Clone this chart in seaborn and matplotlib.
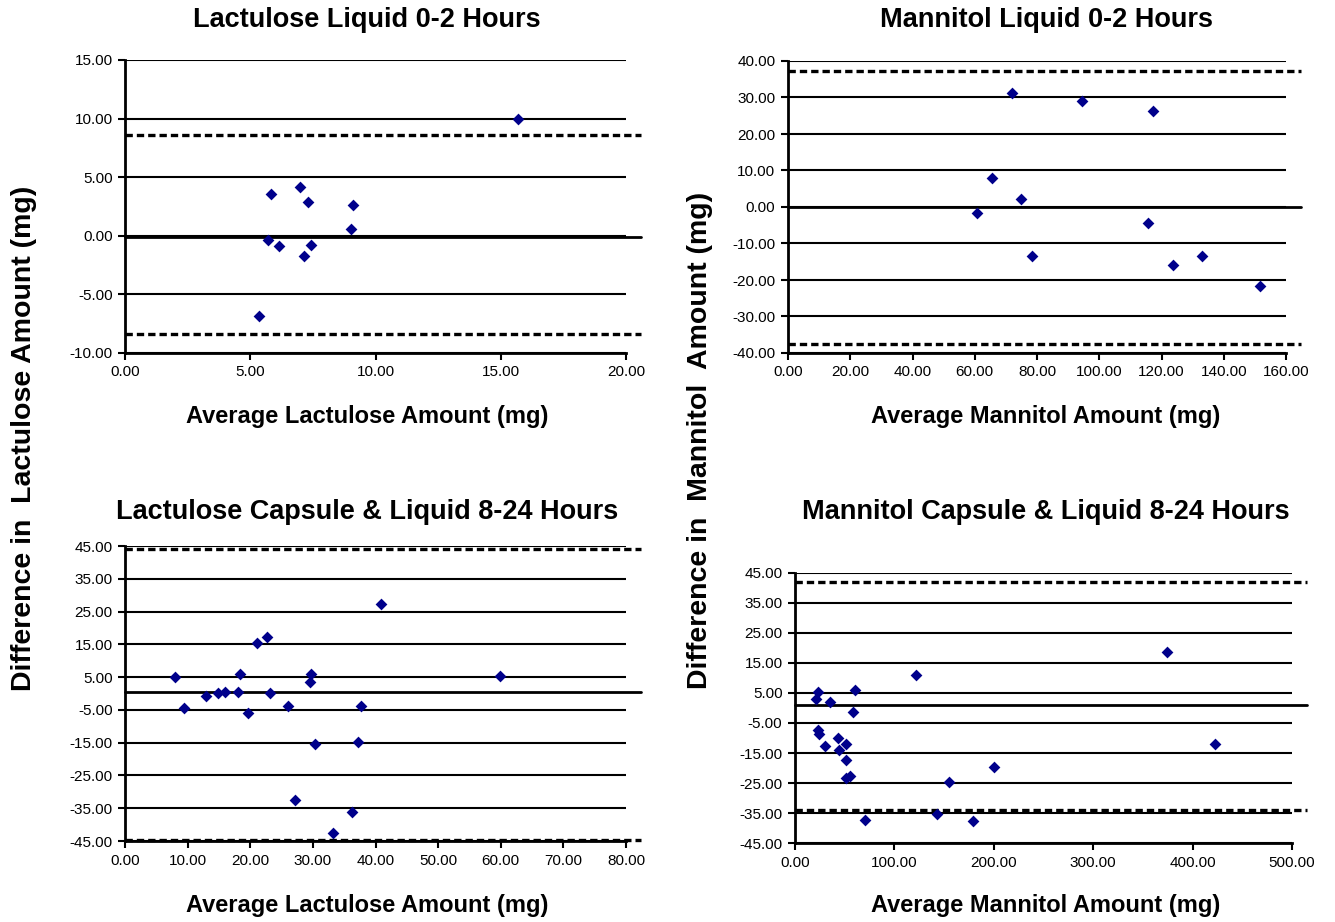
import pandas as pd
import seaborn as sns
import matplotlib.pyplot as plt

# Lactulose liquid 0-2 hours
lac_liq_avg = [15.68, 5.81, 7.00, 7.31, 9.09, 9.04, 5.69, 6.16, 7.43, 7.16, 5.33]
lac_liq_diff = [10.00, 3.55, 4.20, 2.90, 2.59, 0.54, -0.34, -0.91, -0.77, -1.76, -6.88]
lac_liq_lines = [-0.10, 8.58, -8.41]  # mean, upper limit, lower limit

# Mannitol liquid 0-2 hours
man_liq_avg = [60.8, 65.4, 72.0, 74.9, 78.3, 94.6, 117.4, 115.7, 123.6, 133.0, 151.7]
man_liq_diff = [-1.7, 7.95, 31.2, 2.1, -13.5, 29.1, 26.4, -4.4, -16.0, -13.5, -21.7]
man_liq_lines = [0.0, 37.3, -37.4]

# Lactulose capsule & liquid 8-24 hours
lac_cap_avg = [7.97, 9.5, 12.9, 14.8, 15.9, 18.1, 18.3, 19.7, 21.0, 22.7, 23.1,
               26.1, 27.1, 29.7, 29.5, 30.3, 33.2, 36.2, 37.2, 37.7, 40.9, 59.9]
lac_cap_diff = [4.9, -4.4, -0.8, 0.1, 0.5, 0.5, 5.8, -5.9, 15.3, 17.3, 0.2,
                -3.9, -32.6, 5.8, 3.5, -15.3, -42.6, -36.1, -14.8, -3.9, 27.3, 5.3]
lac_cap_lines = [0.5, 44.0, -44.8]

# Mannitol capsule & liquid 8-24 hours
man_cap_avg = [23.2, 21.3, 35.5, 59.9, 58.7, 23.2, 24.0, 29.8, 43.3, 44.4, 51.8,
               51.4, 54.9, 51.4, 70.3, 121.3, 143.0, 154.6, 179.3, 200.5, 374.4, 422.7]
man_cap_diff = [5.3, 3.0, 2.0, 6.1, -1.4, -7.2, -8.6, -12.7, -9.9, -14.1, -11.9,
                -17.2, -22.8, -23.4, -37.4, 11.1, -35.2, -24.8, -37.8, -19.8, 18.7, -12.1]
man_cap_lines = [0.9, 42.1, -34.0]

titles = ["Lactulose Liquid 0-2 Hours", "Mannitol Liquid 0-2 Hours",
          "Lactulose Capsule & Liquid 8-24 Hours", "Mannitol Capsule & Liquid 8-24 Hours"]
xlabels = ["Average Lactulose Amount (mg)", "Average Mannitol Amount (mg)",
           "Average Lactulose Amount (mg)", "Average Mannitol Amount (mg)"]

sns.set_style("white")
plt.rcParams['font.family'] = ['Liberation Sans', 'DejaVu Sans']
plt.rcParams['text.color'] = 'black'
plt.rcParams['xtick.color'] = 'black'
plt.rcParams['ytick.color'] = 'black'

W, H = 1335, 922
fig = plt.figure(figsize=(W / 100, H / 100), dpi=100)

# axes boxes in pixels: left, top, right, bottom
boxes = [(125, 60, 626, 353), (788, 61, 1286, 353),
         (125, 546, 626, 841), (795, 573, 1292, 843)]
xlims = [(0, 20, 5), (0, 160, 20), (0, 80, 10), (0, 500, 100)]
ylims = [(-10, 15, 5), (-40, 40, 10), (-45, 45, 10), (-45, 45, 10)]
data = [(lac_liq_avg, lac_liq_diff, lac_liq_lines),
        (man_liq_avg, man_liq_diff, man_liq_lines),
        (lac_cap_avg, lac_cap_diff, lac_cap_lines),
        (man_cap_avg, man_cap_diff, man_cap_lines)]
centers = [367, 1046, 367, 1046]

for i in range(4):
    l, t, r, b = boxes[i]
    ax = fig.add_axes([l / W, (H - b) / H, (r - l) / W, (b - t) / H])
    x, y, lines = data[i]
    df = pd.DataFrame({'avg': x, 'diff': y})

    x0, x1, xs = xlims[i]
    y0, y1, ys = ylims[i]
    ax.set_xlim(x0, x1)
    ax.set_ylim(y0, y1)
    ax.set_xticks(range(x0, x1 + 1, xs))
    ax.set_yticks(range(y0, y1 + 1, ys))
    ax.xaxis.set_major_formatter(plt.FormatStrFormatter('%.2f'))
    ax.yaxis.set_major_formatter(plt.FormatStrFormatter('%.2f'))

    for yy in range(y0, y1 + 1, ys):
        ax.axhline(yy, color='black', lw=1.5, zorder=1)

    # mean and limits of agreement, running a little past the axis
    xend = x1 + (x1 - x0) * 0.03
    ax.plot([x0, xend], [lines[0]] * 2, color='black', lw=2.0, clip_on=False, zorder=2)
    for lim in lines[1:]:
        ax.plot([x0, xend], [lim] * 2, color='black', lw=2.4, ls=(0, (2.2, 1.2)),
                clip_on=False, zorder=2)

    sns.scatterplot(data=df, x='avg', y='diff', ax=ax, marker='D', s=36,
                    color='#00008B', edgecolor='#00008B', linewidth=0, zorder=3,
                    clip_on=False)

    for side in ['top', 'right']:
        ax.spines[side].set_visible(False)
    for side in ['left', 'bottom']:
        ax.spines[side].set_color('black')
        ax.spines[side].set_linewidth(2)
    ax.tick_params(direction='out', length=5, width=1.5, color='black',
                   labelsize=11, pad=4, left=True, bottom=True)
    ax.set_xlabel('')
    ax.set_ylabel('')

    cx = centers[i]
    fig.text(cx / W, 1 - (20 if i < 2 else 512) / H, titles[i], ha='center',
             va='center', fontsize=19.5, fontweight='bold')
    fig.text(cx / W, 1 - (417 if i < 2 else 905) / H, xlabels[i], ha='center',
             va='center', fontsize=17, fontweight='bold')

fig.text(24 / W, 1 - 438 / H, "Difference in  Lactulose Amount (mg)", rotation=90,
         ha='center', va='center', fontsize=20.5, fontweight='bold')
fig.text(700 / W, 1 - 440 / H, "Difference in  Mannitol  Amount (mg)", rotation=90,
         ha='center', va='center', fontsize=20.5, fontweight='bold')

fig.savefig('out.png', dpi=100)
